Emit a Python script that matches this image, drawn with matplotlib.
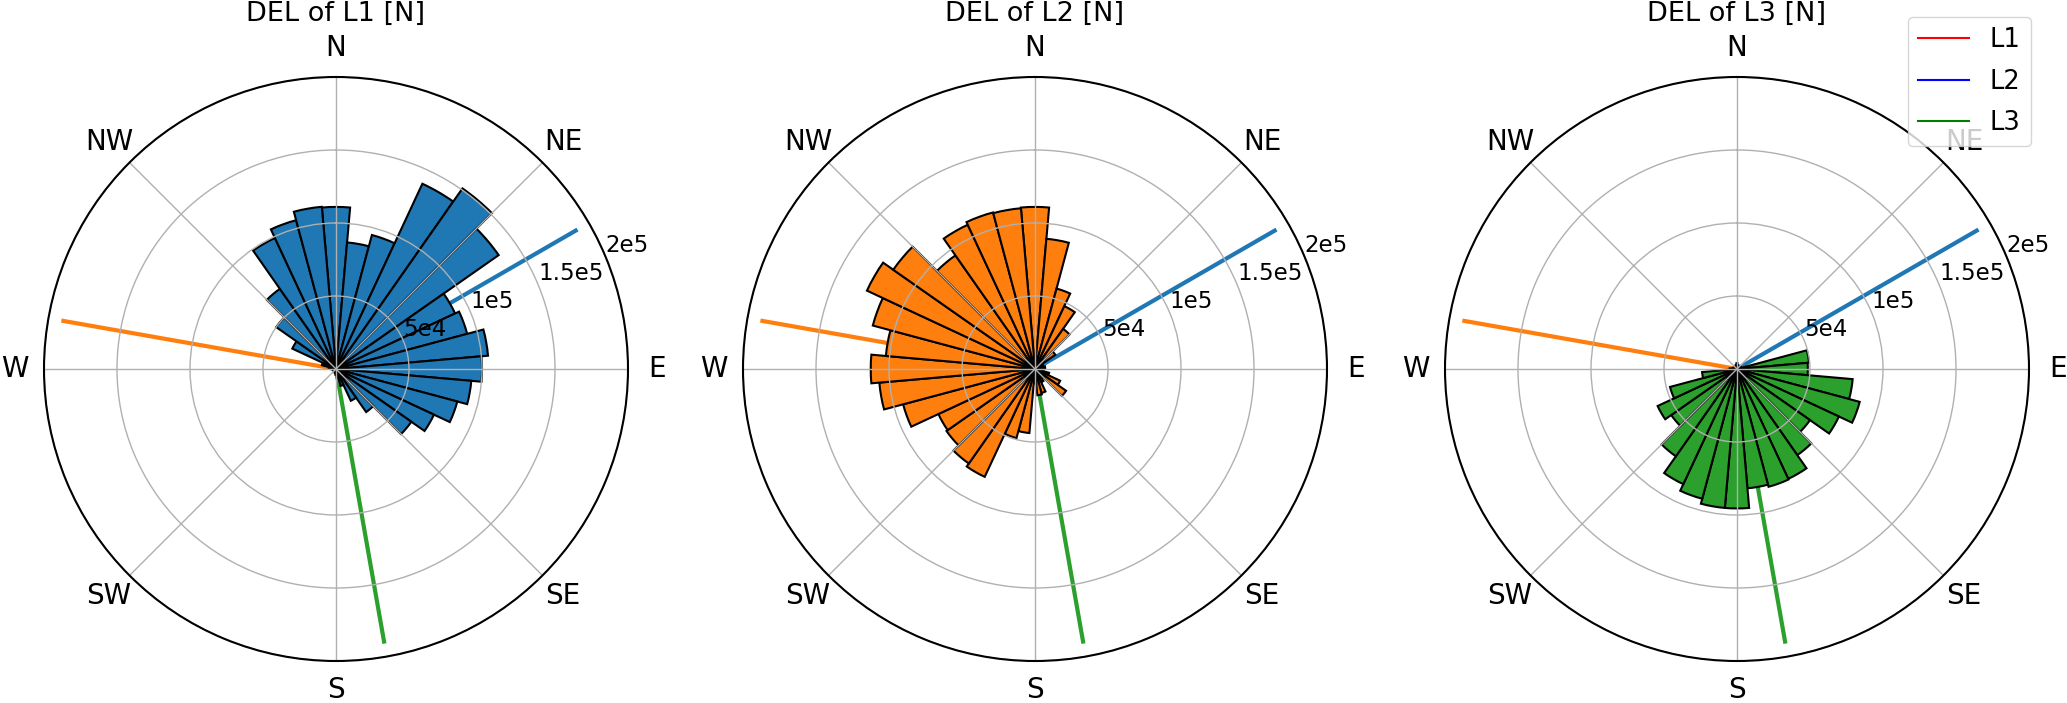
import numpy as np
import matplotlib
matplotlib.use("Agg")
import matplotlib.pyplot as plt
from matplotlib.lines import Line2D

# bin centres (degrees, clockwise from North)
angles_deg = list(range(0, 360, 10))

# DEL values per direction bin [N]
del_L1 = [1.11e5, 0.87e5, 0.95e5, 1.40e5, 1.51e5, 1.36e5, 0.90e5, 0.93e5, 1.045e5,
          1.00e5, 0.93e5, 0.86e5, 0.74e5, 0.63e5, 0.36e5, 0.24e5, 0.12e5, 0.06e5,
          0.04e5, 0.03e5, 0.02e5, 0.02e5, 0.02e5, 0.02e5, 0.02e5, 0.02e5, 0.02e5,
          0.03e5, 0.05e5, 0.10e5, 0.33e5, 0.50e5, 0.67e5, 0.99e5, 1.055e5, 1.115e5]

del_L2 = [1.11e5, 0.895e5, 0.57e5, 0.475e5, 0.335e5, 0.17e5, 0.03e5, 0.06e5, 0.07e5,
          0.05e5, 0.06e5, 0.10e5, 0.19e5, 0.26e5, 0.08e5, 0.10e5, 0.17e5, 0.18e5,
          0.10e5, 0.44e5, 0.49e5, 0.815e5, 0.79e5, 0.74e5, 0.73e5, 0.935e5, 1.07e5,
          1.125e5, 1.025e5, 1.15e5, 1.27e5, 1.185e5, 0.95e5, 1.09e5, 1.11e5, 1.105e5]

del_L3 = [0.04e5, 0.03e5, 0.02e5, 0.02e5, 0.02e5, 0.02e5, 0.03e5, 0.03e5, 0.495e5,
          0.485e5, 0.795e5, 0.87e5, 0.77e5, 0.61e5, 0.72e5, 0.83e5, 0.835e5, 0.82e5,
          0.955e5, 0.955e5, 0.92e5, 0.87e5, 0.73e5, 0.55e5, 0.60e5, 0.475e5, 0.24e5,
          0.05e5, 0.03e5, 0.02e5, 0.02e5, 0.02e5, 0.02e5, 0.02e5, 0.02e5, 0.03e5]

# line directions (degrees) and lengths
line_dirs = {"L1": 60.0, "L2": 280.0, "L3": 170.0}
line_len = 1.91e5

titles = ["DEL of L1 [N]", "DEL of L2 [N]", "DEL of L3 [N]"]
bar_colors = ["#1f77b4", "#ff7f0e", "#2ca02c"]
line_colors = {"L1": "#1f77b4", "L2": "#ff7f0e", "L3": "#2ca02c"}
legend_labels = ["L1", "L2", "L3"]
legend_colors = ["red", "blue", "green"]

theta_labels = ["N", "NE", "E", "SE", "S", "SW", "W", "NW"]
r_ticks = [5e4, 1e5, 1.5e5, 2e5]
r_ticklabels = ["5e4", "1e5", "1.5e5", "2e5"]

fig = plt.figure(figsize=(20.67, 7.03), dpi=100)

W, H = 2067, 703
rad_px = 292
centers_x = [336, 1035, 1737]
center_y = 369
w = 2 * rad_px / W
h = 2 * rad_px / H
bottom = (H - center_y - rad_px) / H

data = [del_L1, del_L2, del_L3]
theta = np.deg2rad(angles_deg)
width = np.deg2rad(10)

for i, (cx, vals) in enumerate(zip(centers_x, data)):
    ax = fig.add_axes([(cx - rad_px) / W, bottom, w, h], projection="polar")
    ax.set_theta_zero_location("N")
    ax.set_theta_direction(-1)
    for name in ["L1", "L2", "L3"]:
        a = np.deg2rad(line_dirs[name])
        ax.plot([a, a], [0, line_len], color=line_colors[name], lw=3,
                zorder=0.8, solid_capstyle="butt")
    ax.bar(theta, vals, width=width, color=bar_colors[i], edgecolor="black",
           linewidth=1.5, zorder=1)
    ax.set_ylim(0, 2e5)
    ax.set_yticks(r_ticks)
    ax.set_yticklabels(r_ticklabels, fontsize=16.5)
    ax.set_rlabel_position(67.5)
    ax.set_xticks(np.deg2rad(np.arange(0, 360, 45)))
    ax.set_xticklabels(theta_labels, fontsize=20)
    ax.tick_params(axis="x", pad=10.5)
    ax.grid(True, color="#b0b0b0", lw=1.0)
    ax.spines["polar"].set_linewidth(1.5)
    ax.set_title(titles[i], fontsize=19.5, y=1.0, pad=40)

handles = [Line2D([0], [0], color=c, lw=1.5) for c in legend_colors]
fig.legend(handles, legend_labels, loc="upper right",
           bbox_to_anchor=(2044 / W, 1 - 4 / H), fontsize=18.5,
           labelspacing=0.6)

fig.savefig("out.png", dpi=100)
